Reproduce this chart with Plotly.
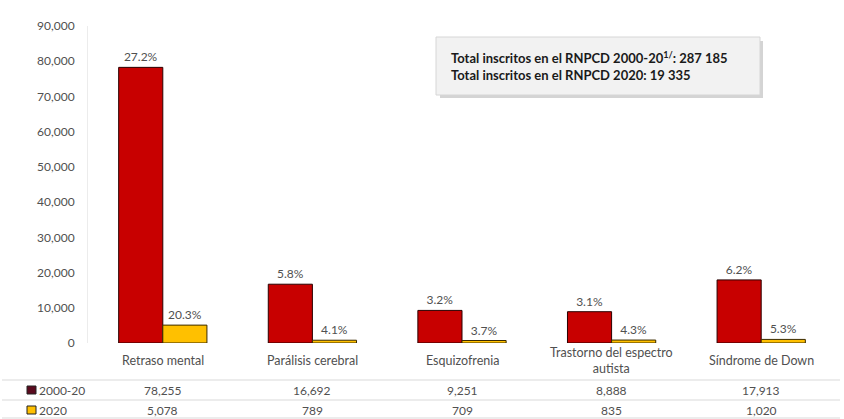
import plotly.graph_objects as go

categories = ["Retraso mental", "Parálisis cerebral", "Esquizofrenia",
              "Trastorno del espectro<br>autista", "Síndrome de Down"]
series_names = ["2000-20", "2020"]
values_2000_20 = [78255, 16692, 9251, 8888, 17913]
values_2020 = [5078, 789, 709, 835, 1020]
pct_2000_20 = ["27.2%", "5.8%", "3.2%", "3.1%", "6.2%"]
pct_2020 = ["20.3%", "4.1%", "3.7%", "4.3%", "5.3%"]
y_ticks = [0, 10000, 20000, 30000, 40000, 50000, 60000, 70000, 80000, 90000]
box_lines = ["Total inscritos en el RNPCD 2000-20<sup>1/</sup>: 287 185",
             "Total inscritos en el RNPCD 2020: 19 335"]

W, H = 844, 419
L, R, T, B = 88, 8, 26, 76
PW, PH = W - L - R, H - T - B

def px(x):
    return (x - L) / PW

def py(y):
    return (H - B - y) / PH

FONT = "Lato, Carlito, Calibri, sans-serif"
GREY = "#505050"
RED = "#C80000"
YEL = "#FFC000"

fig = go.Figure()
fig.add_trace(go.Bar(
    x=categories, y=values_2000_20, name=series_names[0],
    marker=dict(color=RED, line=dict(color="#2a0000", width=1)),
    text=pct_2000_20, textposition="outside", cliponaxis=False,
    textfont=dict(size=12, color=GREY, family=FONT),
))
fig.add_trace(go.Bar(
    x=categories, y=values_2020, name=series_names[1],
    marker=dict(color=YEL, line=dict(color="#3a2a00", width=1)),
    text=pct_2020, textposition="outside", cliponaxis=False,
    textfont=dict(size=12, color=GREY, family=FONT),
))

annotations = []
# category labels
for c in categories:
    annotations.append(dict(x=c, xref="x", y=py(360), yref="paper",
                            text=c, showarrow=False, yanchor="middle",
                            font=dict(size=12.5, color=GREY, family=FONT)))
# table values
for c, v1, v2 in zip(categories, values_2000_20, values_2020):
    annotations.append(dict(x=c, xref="x", y=py(390), yref="paper",
                            text=f"{v1:,}", showarrow=False, yanchor="middle",
                            font=dict(size=12, color=GREY, family=FONT)))
    annotations.append(dict(x=c, xref="x", y=py(410), yref="paper",
                            text=f"{v2:,}", showarrow=False, yanchor="middle",
                            font=dict(size=12, color=GREY, family=FONT)))
# table row labels
for name, yy in zip(series_names, [390, 410]):
    annotations.append(dict(x=px(37), xref="paper", y=py(yy), yref="paper",
                            text=name, showarrow=False, xanchor="left",
                            yanchor="middle",
                            font=dict(size=12, color=GREY, family=FONT)))
# info box text
annotations.append(dict(x=px(449), xref="paper", y=py(66), yref="paper",
                        text="<br>".join(f"<b>{t}</b>" for t in box_lines),
                        showarrow=False,
                        xanchor="left", yanchor="middle", align="left",
                        font=dict(size=13, color="#1a1a1a", family=FONT)))

shapes = [
    # box shadow
    dict(type="rect", xref="paper", yref="paper",
         x0=px(440), x1=px(763), y0=py(98), y1=py(41),
         fillcolor="#d4d4d4", line=dict(width=0), layer="below"),
    dict(type="rect", xref="paper", yref="paper",
         x0=px(436), x1=px(760), y0=py(95), y1=py(37),
         fillcolor="#f2f2f2", line=dict(color="#d6d6d6", width=1),
         layer="below"),
    # table lines
    dict(type="line", xref="paper", yref="paper", x0=px(2), x1=px(840),
         y0=py(380), y1=py(380), line=dict(color="#d9d9d9", width=1)),
    dict(type="line", xref="paper", yref="paper", x0=px(2), x1=px(840),
         y0=py(400), y1=py(400), line=dict(color="#d9d9d9", width=1)),
    dict(type="line", xref="paper", yref="paper", x0=px(2), x1=px(840),
         y0=py(418), y1=py(418), line=dict(color="#d9d9d9", width=1)),
    # legend keys
    dict(type="rect", xref="paper", yref="paper", x0=px(27), x1=px(36),
         y0=py(394), y1=py(386), fillcolor="#5a0a1e",
         line=dict(color="#222222", width=1)),
    dict(type="rect", xref="paper", yref="paper", x0=px(27), x1=px(36),
         y0=py(414), y1=py(406), fillcolor=YEL,
         line=dict(color="#222222", width=1)),
]

fig.update_layout(
    width=W, height=H,
    margin=dict(l=L, r=R, t=T, b=B, pad=0),
    paper_bgcolor="white", plot_bgcolor="white",
    barmode="group", bargap=0.41, bargroupgap=0,
    showlegend=False,
    font=dict(family=FONT, size=12, color=GREY),
    xaxis=dict(showticklabels=False, showgrid=False, zeroline=False,
               showline=False, ticks=""),
    yaxis=dict(range=[0, 90000], tickvals=y_ticks, tickformat=",d",
               showgrid=False, zeroline=False, showline=True,
               linecolor="#ececec", linewidth=1, ticks="",
               ticklabelstandoff=10,
               tickfont=dict(size=12, color=GREY, family=FONT)),
    annotations=annotations, shapes=shapes,
)

fig.write_html("out.html",
               config={"displayModeBar": False},
               post_script="document.body.style.margin='0px';"
                           "document.body.style.overflow='hidden';")
